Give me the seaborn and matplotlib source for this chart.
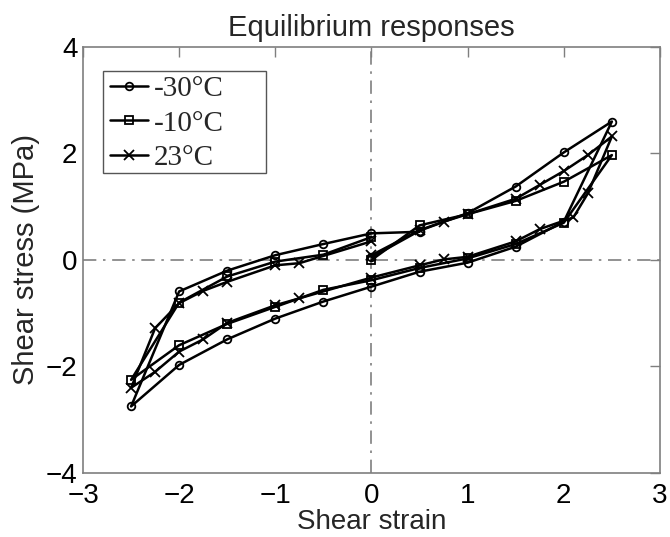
import matplotlib
matplotlib.use("Agg")
import matplotlib.pyplot as plt
from matplotlib.patches import Rectangle
import seaborn as sns
import pandas as pd

# ---- data ----
strain_m30 = [0, 0.5, 1, 1.5, 2, 2.5, 2, 1.5, 1, 0.5, 0, -0.5, -1, -1.5, -2, -2.5,
              -2, -1.5, -1, -0.5, 0, 0.5]
stress_m30 = [0.05, 0.55, 0.88, 1.38, 2.02, 2.6, 0.72, 0.25, -0.05, -0.22, -0.5, -0.78,
              -1.1, -1.49, -1.97, -2.75, -0.59, -0.2, 0.09, 0.3, 0.5, 0.53]

strain_m10 = [0, 0.5, 1, 1.5, 2, 2.5, 2, 1.5, 1, 0.5, 0, -0.5, -1, -1.5, -2, -2.5,
              -2, -1.5, -1, -0.5, 0]
stress_m10 = [0.0, 0.65, 0.86, 1.11, 1.47, 1.97, 0.7, 0.3, 0.03, -0.15, -0.38, -0.56,
              -0.88, -1.2, -1.6, -2.25, -0.8, -0.31, -0.03, 0.1, 0.43]

strain_23 = [0, 0.5, 0.75, 1, 1.5, 1.75, 2, 2.25, 2.5, 2.25, 2.1, 1.75, 1.5, 1, 0.75,
             0.5, 0, -0.75, -1, -1.5, -1.75, -2, -2.25, -2.5, -2.25, -2, -1.75, -1.5,
             -1, -0.75, 0]
stress_23 = [0.09, 0.56, 0.72, 0.86, 1.15, 1.41, 1.67, 1.97, 2.32, 1.25, 0.8, 0.58,
             0.35, 0.06, 0.01, -0.1, -0.33, -0.72, -0.85, -1.18, -1.49, -1.72, -2.1,
             -2.4, -1.28, -0.81, -0.58, -0.41, -0.1, -0.06, 0.35]

labels = ["-30°C", "-10°C", "23°C"]
markers = ["o", "s", "x"]
x_ticks = [-3, -2, -1, 0, 1, 2, 3]
y_ticks = [-4, -2, 0, 2, 4]

sns.set_style("white")
plt.rcParams["font.family"] = ["Liberation Sans", "DejaVu Sans"]

fig = plt.figure(figsize=(6.7, 5.37), dpi=100)
ax = fig.add_axes([0.1239, 0.1192, 0.8611, 0.7933])

gray = "#7f7f7f"
ax.axhline(0, color=gray, lw=1.2, ls=(0, (8, 4, 1.5, 4)), zorder=1)
ax.axvline(0, color=gray, lw=1.2, ls=(0, (8, 4, 1.5, 4)), zorder=1)

series = [(strain_m30, stress_m30), (strain_m10, stress_m10), (strain_23, stress_23)]
for (xs, ys), lab, mk in zip(series, labels, markers):
    df = pd.DataFrame({"strain": xs, "stress": ys})
    sns.lineplot(data=df, x="strain", y="stress", sort=False, estimator=None,
                 color="black", lw=1.8, marker=mk, markersize=5.5 if mk != "x" else 6.5,
                 markerfacecolor="none", markeredgecolor="black", markeredgewidth=1.3,
                 label=lab, ax=ax, zorder=3)

ax.set_xlim(-3, 3)
ax.set_ylim(-4, 4)
ax.set_xticks(x_ticks)
ax.set_yticks(y_ticks)
ax.tick_params(direction="in", length=7, width=1, colors=gray, labelcolor="black",
               labelsize=20, top=True, right=True)
ax.tick_params(axis="x", pad=7)
ax.tick_params(axis="y", pad=4)
for s in ax.spines.values():
    s.set_color(gray)
    s.set_linewidth(1.2)

ax.set_xlabel("Shear strain", fontsize=20, labelpad=0)
ax.set_ylabel("Shear stress (MPa)", fontsize=21, labelpad=4)
ax.set_title("Equilibrium responses", fontsize=21, pad=8)

# legend box (MATLAB style, with extra room on the right)
ax.add_patch(Rectangle((0.0347, 0.704), 0.2825, 0.2397, transform=ax.transAxes,
                       facecolor="white", edgecolor="#555555", lw=1.0, zorder=4))
leg = ax.legend(loc="upper left", bbox_to_anchor=(0.047, 0.932), frameon=False,
                prop={"family": "Liberation Serif", "size": 21},
                handlelength=1.3, handletextpad=0.2, labelspacing=0.27,
                borderpad=0, borderaxespad=0)
leg.set_zorder(5)

fig.savefig("out.png", dpi=100)
